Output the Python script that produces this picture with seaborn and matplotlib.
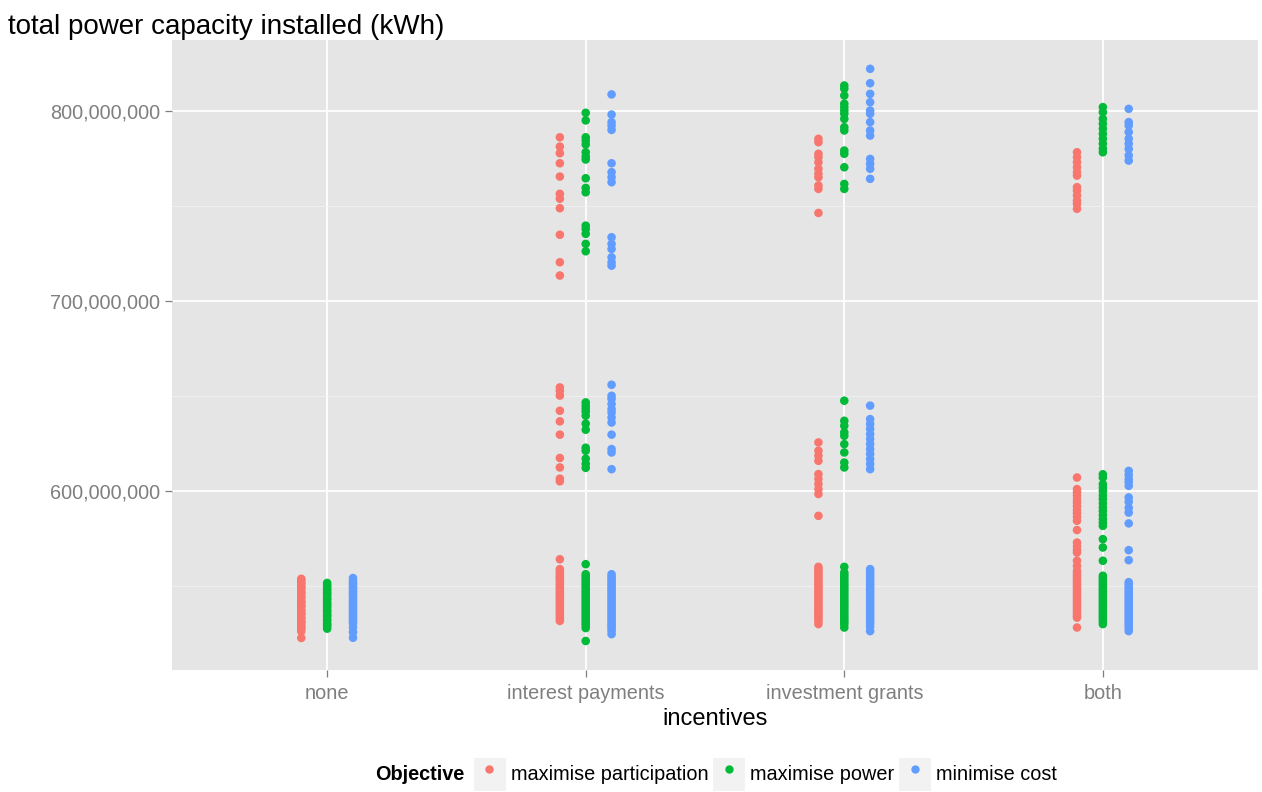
import numpy as np
import pandas as pd
import matplotlib
matplotlib.use('Agg')
import matplotlib.pyplot as plt
from matplotlib.lines import Line2D
from matplotlib.patches import Patch
from matplotlib.legend_handler import HandlerTuple
from matplotlib.ticker import FuncFormatter, FixedLocator
import seaborn as sns

# values, in millions of kWh
incentives = ["none", "interest payments", "investment grants", "both"]
objectives = ["maximise participation", "maximise power", "minimise cost"]
colors = ["#F8766D", "#00BA38", "#619CFF"]

none_part = [553.6, 552.9, 551.7, 550.8, 549.4, 548.9, 547.5, 546.3, 545.8, 544.2,
             543.7, 542.1, 541.4, 540.6, 539.2, 538.8, 537.1, 536.5, 535.3, 534.7,
             533.2, 532.4, 531.1, 530.6, 529.3, 528.1, 527.4, 525.9, 522.4]
none_power = [551.4, 550.2, 549.3, 548.1, 547.4, 546.2, 545.5, 544.3, 543.1, 542.6,
              541.2, 540.4, 539.3, 538.5, 537.2, 536.4, 535.1, 534.3, 533.6, 532.2,
              531.4, 530.1, 529.3, 528.4, 527.3]
none_cost = [554.0, 552.6, 551.4, 550.3, 549.2, 548.4, 547.1, 546.3, 545.2, 544.5,
             543.3, 542.1, 541.4, 540.2, 539.3, 538.1, 537.4, 536.2, 535.3, 534.1,
             533.4, 532.2, 531.3, 530.1, 527.9, 525.4, 522.5]

ip_part = [786.4, 781.5, 778.0, 772.7, 765.7, 756.6, 754.0, 749.0, 735.0, 720.5, 713.5,
           654.5, 652.6, 650.2, 642.2, 636.6, 629.6, 617.3, 612.3, 606.4, 605.0,
           563.9, 558.7, 557.5, 556.4, 555.1, 554.3, 553.2, 552.0, 550.8, 549.6,
           548.7, 547.4, 546.2, 545.3, 544.1, 543.0, 541.9, 540.7, 539.6, 538.4,
           537.3, 536.2, 535.0, 533.7, 532.5, 531.4]
ip_power = [799.3, 795.3, 786.4, 784.7, 782.6, 778.5, 776.3, 774.7, 764.8, 759.7,
            757.4, 739.8, 738.0, 735.5, 730.2, 726.3,
            646.6, 644.9, 643.3, 641.7, 639.6, 635.4, 632.2, 622.7, 621.1, 616.9,
            614.2, 612.1,
            561.3, 556.0, 554.8, 553.6, 552.3, 551.2, 550.1, 548.9, 547.6, 546.5,
            545.3, 544.2, 543.0, 541.8, 540.7, 539.5, 538.3, 537.2, 536.0, 534.8,
            533.6, 532.5, 531.3, 530.1, 528.9, 527.6, 520.8]
ip_cost = [809.0, 798.4, 794.4, 792.6, 790.3, 772.7, 768.0, 765.3, 762.7, 733.7,
           730.2, 727.5, 723.1, 720.5, 718.7,
           655.9, 650.1, 648.4, 645.8, 643.1, 641.3, 638.7, 636.0, 629.6, 622.0,
           620.2, 611.4,
           556.0, 554.7, 553.5, 552.4, 551.1, 549.9, 548.8, 547.6, 546.3, 545.2,
           544.0, 542.8, 541.6, 540.5, 539.3, 538.1, 537.0, 535.8, 534.6, 533.4,
           532.2, 531.0, 529.8, 528.6, 527.5, 526.1, 524.4]

ig_part = [785.6, 783.8, 777.7, 775.9, 773.2, 769.8, 767.2, 765.3, 761.0, 759.2, 746.5,
           625.5, 621.1, 618.5, 615.8, 608.8, 606.2, 603.5, 600.9, 598.3, 586.8,
           559.9, 558.7, 557.4, 556.3, 555.1, 553.9, 552.7, 551.5, 550.3, 549.2,
           548.0, 546.8, 545.6, 544.4, 543.2, 542.1, 540.9, 539.7, 538.5, 537.3,
           536.1, 535.0, 533.8, 532.6, 531.4, 529.7]
ig_power = [813.7, 812.0, 808.4, 804.1, 802.3, 800.5, 798.8, 796.1, 791.7, 790.0,
            779.4, 777.7, 770.6, 761.8, 759.2,
            647.5, 636.9, 634.3, 630.8, 629.0, 624.6, 620.2, 614.9, 612.3,
            559.9, 556.9, 555.7, 554.5, 553.3, 552.1, 550.9, 549.8, 548.6, 547.4,
            546.2, 545.0, 543.8, 542.6, 541.5, 540.3, 539.1, 537.9, 536.7, 535.5,
            534.3, 533.2, 532.0, 530.8, 529.6, 527.9]
ig_cost = [822.5, 814.9, 809.3, 804.9, 800.5, 798.8, 794.4, 790.0, 787.3, 775.0,
           772.4, 769.8, 764.5,
           644.9, 637.8, 635.2, 632.6, 629.9, 627.3, 624.6, 622.0, 619.4, 616.7,
           614.1, 611.4,
           558.7, 557.5, 556.3, 555.1, 553.9, 552.7, 551.4, 550.2, 549.0, 547.8,
           546.6, 545.4, 544.2, 543.0, 541.8, 540.6, 539.4, 538.2, 537.0, 535.8,
           534.6, 533.4, 532.2, 531.0, 529.8, 528.2, 526.0]

both_part = [778.5, 775.9, 773.2, 770.6, 768.0, 766.2, 760.1, 758.3, 755.7, 753.0,
             751.3, 748.7,
             607.0, 600.9, 599.2, 597.5, 595.4, 593.6, 591.8, 589.7, 588.1, 586.2,
             584.2, 579.3, 572.7, 570.6, 568.8, 567.4, 563.1, 560.4,
             557.8, 556.6, 555.4, 554.2, 553.0, 551.8, 550.6, 549.4, 548.2, 547.0,
             545.8, 544.6, 543.4, 542.2, 541.0, 539.8, 538.6, 537.4, 536.2, 535.0,
             533.8, 533.1, 527.9]
both_power = [802.3, 799.6, 796.1, 793.5, 790.9, 788.2, 785.6, 783.0, 780.3, 778.5,
              608.7, 607.0, 603.5, 601.6, 599.8, 597.5, 595.6, 593.4, 591.2, 589.3,
              587.1, 585.0, 583.2, 581.5, 574.5, 570.1, 563.1,
              555.2, 554.0, 552.8, 551.6, 550.4, 549.2, 548.0, 546.8, 545.6, 544.4,
              543.2, 542.0, 540.8, 539.6, 538.4, 537.2, 536.0, 534.8, 533.6, 532.4,
              531.2, 529.7]
both_cost = [801.4, 794.4, 792.6, 789.1, 785.6, 783.0, 780.3, 776.8, 774.1,
             610.5, 608.3, 606.1, 604.5, 602.6, 596.5, 594.2, 591.0, 588.5, 582.8,
             568.7, 563.4,
             551.8, 550.6, 549.4, 548.2, 547.0, 545.8, 544.6, 543.4, 542.2, 541.0,
             539.8, 538.6, 537.4, 536.2, 535.0, 533.8, 532.6, 531.4, 530.2, 529.0,
             527.6, 526.0]

groups = [
    (none_part, none_power, none_cost),
    (ip_part, ip_power, ip_cost),
    (ig_part, ig_power, ig_cost),
    (both_part, both_power, both_cost),
]

rows = []
for i, inc in enumerate(incentives):
    for j, obj in enumerate(objectives):
        for v in groups[i][j]:
            rows.append({"incentives": inc, "pos": i + (j - 1) * 0.1,
                         "Objective": obj, "capacity": v * 1e6})
df = pd.DataFrame(rows)

sns.set_style("white")
plt.rcParams['font.family'] = ['Liberation Sans', 'DejaVu Sans']
plt.rcParams['text.color'] = 'black'
plt.rcParams['axes.labelcolor'] = 'black'

fig = plt.figure(figsize=(12.62, 7.92), dpi=100)
ax = fig.add_axes([172 / 1262, 1 - 670 / 792, (1258 - 172) / 1262, (670 - 40) / 792])
ax.set_facecolor("#E5E5E5")

sns.scatterplot(data=df, x="pos", y="capacity", hue="Objective", hue_order=objectives,
                palette=colors, s=38, linewidth=0, legend=False, ax=ax, zorder=3)

ax.set_xlim(-0.6, 3.6)
ax.set_ylim(505.5e6, 837.7e6)
ax.set_xticks(range(len(incentives)))
ax.set_xticklabels(incentives)
ax.yaxis.set_major_locator(FixedLocator([600e6, 700e6, 800e6]))
ax.yaxis.set_minor_locator(FixedLocator([550e6, 650e6, 750e6]))
ax.yaxis.set_major_formatter(FuncFormatter(lambda v, p: f"{v:,.0f}"))
ax.grid(True, which="major", color="white", linewidth=1.3, zorder=0)
ax.grid(True, which="minor", axis="y", color="#F2F2F2", linewidth=0.6, zorder=0)
ax.set_axisbelow(True)
for sp in ax.spines.values():
    sp.set_visible(False)
ax.tick_params(axis="both", which="major", length=5, width=0.9, color="#7F7F7F",
               labelcolor="#7F7F7F", labelsize=14.3, left=True, bottom=True)
ax.tick_params(axis="y", which="major", pad=3.5)
ax.tick_params(axis="x", which="major", pad=5)
ax.tick_params(axis="y", which="minor", length=0)
ax.set_xlabel("incentives", fontsize=17, labelpad=4)
ax.set_ylabel("")

fig.text(8 / 1262, 1 - 27 / 792, "total power capacity installed (kWh)",
         fontsize=20, va="center", ha="left")

# legend at the bottom, ggplot style
fig.text(375 / 1262, 1 - 775 / 792, "Objective", fontsize=14.3, fontweight="bold",
         va="center", ha="left")
handles = [(Patch(facecolor="#F2F2F2", edgecolor="white", linewidth=0.8),
            Line2D([], [], marker="o", linestyle="", color=c, markersize=5))
           for c in colors]
fig.legend(handles, objectives, handler_map={tuple: HandlerTuple(ndivide=1, pad=0)},
           loc="center left", bbox_to_anchor=(473 / 1262, 1 - 774 / 792), ncol=3,
           frameon=False, fontsize=14.3, handlelength=1.65, handleheight=2.2,
           handletextpad=0.25, columnspacing=0.2, borderaxespad=0, borderpad=0)

fig.savefig("out.png", dpi=100)
